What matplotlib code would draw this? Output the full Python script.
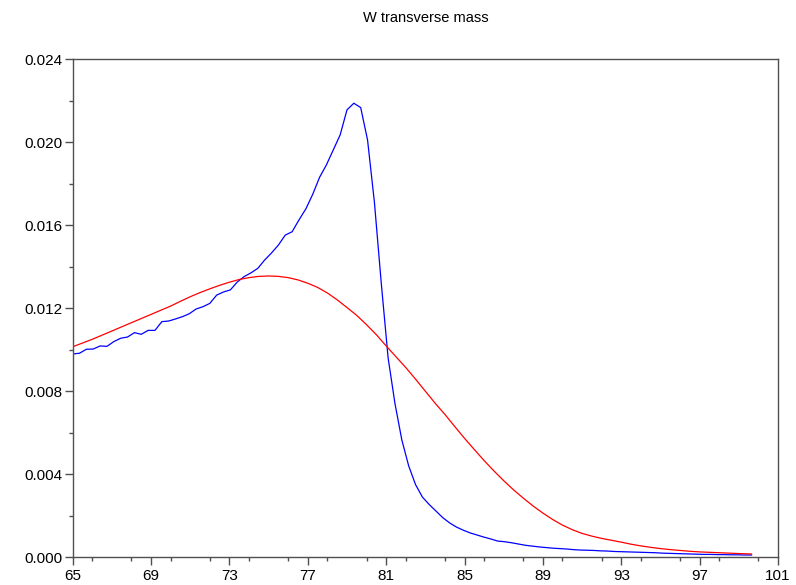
import numpy as np
import matplotlib
matplotlib.use("Agg")
import matplotlib.pyplot as plt
from matplotlib.ticker import MultipleLocator, FormatStrFormatter

plt.rcParams['font.family'] = ['Liberation Sans', 'DejaVu Sans']

# Histogram of the reconstructed W transverse mass: 100 bins of 0.35 GeV from 65
bin_start = 65.0
bin_width = 0.35
mt_hist = [
    0.00979, 0.00983, 0.01002, 0.01003, 0.01018, 0.01016, 0.01039, 0.01055, 0.01061, 0.01082,
    0.01074, 0.01093, 0.01093, 0.01135, 0.01138, 0.01148, 0.01159, 0.01173, 0.01196, 0.01207,
    0.01223, 0.01263, 0.01278, 0.01288, 0.01326, 0.01352, 0.01370, 0.01392, 0.01432, 0.01466,
    0.01504, 0.01552, 0.01568, 0.01625, 0.01678, 0.01748, 0.01830, 0.01890, 0.01962, 0.02034,
    0.02155, 0.02187, 0.02166, 0.02010, 0.01710, 0.01320, 0.00960, 0.00740, 0.00565, 0.00440,
    0.00350, 0.00290, 0.00254, 0.00222, 0.00190, 0.00165, 0.00145, 0.00130, 0.00117, 0.00107,
    0.00097, 0.00088, 0.00078, 0.00075, 0.00070, 0.00064, 0.00058, 0.00054, 0.00050, 0.00047,
    0.00044, 0.00042, 0.00040, 0.00037, 0.00035, 0.00034, 0.00033, 0.00031, 0.00030, 0.00028,
    0.00027, 0.00026, 0.00025, 0.00024, 0.00023, 0.00022, 0.00020, 0.00019, 0.00018, 0.00017,
    0.00016, 0.00015, 0.00014, 0.00014, 0.00013, 0.00013, 0.00012, 0.00012, 0.00011, 0.00011,
]

# Smooth reference distribution, sampled every 0.5 GeV
mt_model_x = [65.0, 65.5, 66.0, 66.5, 67.0, 67.5, 68.0, 68.5, 69.0, 69.5,
              70.0, 70.5, 71.0, 71.5, 72.0, 72.5, 73.0, 73.5, 74.0, 74.5,
              75.0, 75.5, 76.0, 76.5, 77.0, 77.5, 78.0, 78.5, 79.0, 79.5,
              80.0, 80.5, 81.0, 81.5, 82.0, 82.5, 83.0, 83.5, 84.0, 84.5,
              85.0, 85.5, 86.0, 86.5, 87.0, 87.5, 88.0, 88.5, 89.0, 89.5,
              90.0, 90.5, 91.0, 91.5, 92.0, 92.5, 93.0, 93.5, 94.0, 94.5,
              95.0, 95.5, 96.0, 96.5, 97.0, 97.5, 98.0, 98.5, 99.0, 99.65]
mt_model_y = [0.01014, 0.01032, 0.01050, 0.01070, 0.01090, 0.01110, 0.01130, 0.01150, 0.01170, 0.01190,
              0.01210, 0.01233, 0.01255, 0.01275, 0.01293, 0.01310, 0.01325, 0.01338, 0.01347, 0.01353,
              0.01355, 0.01353, 0.01347, 0.01336, 0.01320, 0.01300, 0.01273, 0.01240, 0.01203, 0.01165,
              0.01120, 0.01072, 0.01018, 0.00966, 0.00914, 0.00858, 0.00800, 0.00742, 0.00688, 0.00630,
              0.00573, 0.00519, 0.00466, 0.00416, 0.00369, 0.00325, 0.00285, 0.00247, 0.00213, 0.00182,
              0.00155, 0.00133, 0.00115, 0.00102, 0.00091, 0.00082, 0.00073, 0.00063, 0.00055, 0.00048,
              0.00042, 0.00037, 0.00033, 0.00029, 0.00026, 0.00024, 0.00022, 0.00020, 0.00018, 0.00016]

x_ticks = [65, 69, 73, 77, 81, 85, 89, 93, 97, 101]
y_ticks = [0.000, 0.004, 0.008, 0.012, 0.016, 0.020, 0.024]

mt_x = bin_start + bin_width * np.arange(len(mt_hist))

fig = plt.figure(figsize=(7.96, 5.85), dpi=100)
ax = fig.add_axes([72.7 / 796, 1 - 557.3 / 585, (778 - 72.7) / 796, (557.3 - 59) / 585])

ax.plot(mt_x, mt_hist, color=(0, 0, 1), lw=0.9)
ax.plot(mt_model_x, mt_model_y, color=(1, 0, 0), lw=0.9)

ax.set_xlim(65, 101)
ax.set_ylim(0, 0.024)
ax.set_xticks(x_ticks)
ax.set_yticks(y_ticks)
ax.xaxis.set_minor_locator(MultipleLocator(2))
ax.yaxis.set_minor_locator(MultipleLocator(0.002))
ax.yaxis.set_major_formatter(FormatStrFormatter('%.3f'))

axis_color = '#505050'
for s in ax.spines.values():
    s.set_color(axis_color)
    s.set_linewidth(1.0)
ax.tick_params(which='major', length=6, width=1.0, color=axis_color, labelsize=11, labelcolor='black')
ax.tick_params(which='minor', length=3, width=1.0, color=axis_color)
ax.tick_params(axis='y', which='major', pad=1.5)
ax.tick_params(axis='x', which='major', pad=2.5)

fig.text((72.7 + 778) / 2 / 796, 1 - 18 / 585, 'W transverse mass', ha='center', va='center', fontsize=10.5)

fig.savefig('out.png', dpi=100)
